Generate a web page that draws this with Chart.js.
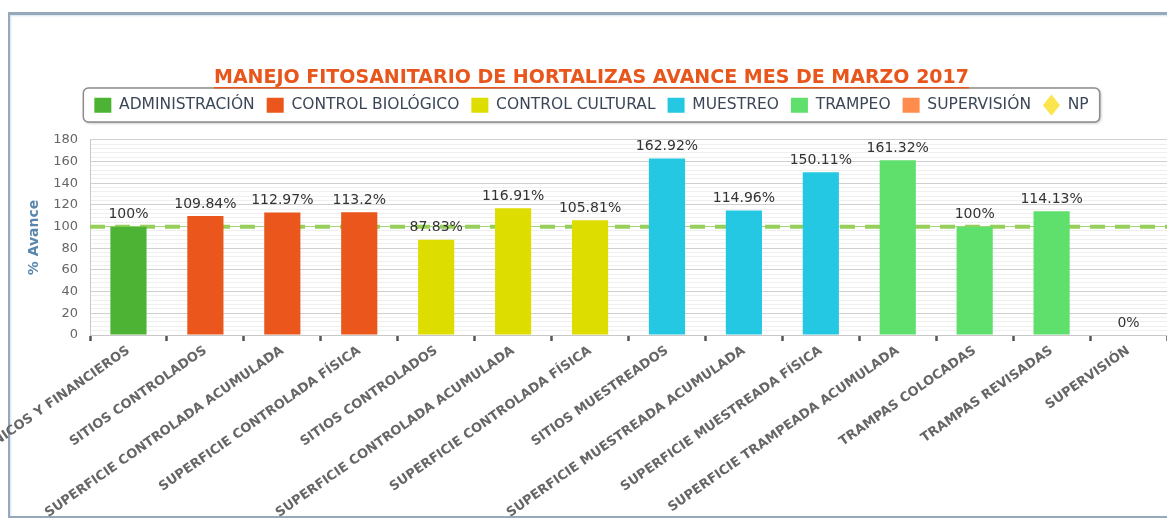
<!DOCTYPE html>
<html><head><meta charset="utf-8">
<script src="https://cdn.jsdelivr.net/npm/chart.js@4.4.0/dist/chart.umd.min.js"></script>
<style>
html,body{margin:0;padding:0;background:#fff;width:1167px;height:523px;overflow:hidden}
#frame{position:absolute;left:8px;top:12px;width:1200px;height:501px;border-top:3px solid #95a9ba;border-left:2px solid #95a9ba;border-bottom:2px solid #95a9ba;box-shadow:inset 1px 1px 2px #d4e4f0}
#wrap{position:absolute;left:0;top:0;width:1167px;height:523px}
</style></head><body>
<div id="frame"></div>
<div id="wrap"><canvas id="c" width="1167" height="523"></canvas></div>
<script>
const titleText = 'MANEJO FITOSANITARIO DE HORTALIZAS AVANCE MES DE MARZO 2017';
const categories = [
  'RECURSOS HUMANOS, MATERIALES, TÉCNICOS Y FINANCIEROS',
  'SITIOS CONTROLADOS',
  'SUPERFICIE CONTROLADA ACUMULADA',
  'SUPERFICIE CONTROLADA FÍSICA',
  'SITIOS CONTROLADOS',
  'SUPERFICIE CONTROLADA ACUMULADA',
  'SUPERFICIE CONTROLADA FÍSICA',
  'SITIOS MUESTREADOS',
  'SUPERFICIE MUESTREADA ACUMULADA',
  'SUPERFICIE MUESTREADA FÍSICA',
  'SUPERFICIE TRAMPEADA ACUMULADA',
  'TRAMPAS COLOCADAS',
  'TRAMPAS REVISADAS',
  'SUPERVISIÓN'
];
const administracion    = [100, null, null, null, null, null, null, null, null, null, null, null, null, null];
const controlBiologico  = [null, 109.84, 112.97, 113.2, null, null, null, null, null, null, null, null, null, null];
const controlCultural   = [null, null, null, null, 87.83, 116.91, 105.81, null, null, null, null, null, null, null];
const muestreo          = [null, null, null, null, null, null, null, 162.92, 114.96, 150.11, null, null, null, null];
const trampeo           = [null, null, null, null, null, null, null, null, null, null, 161.32, 100, 114.13, null];
const supervision       = [null, null, null, null, null, null, null, null, null, null, null, null, null, 0];
const npLevel = 100;
const yTickLabels = [0, 20, 40, 60, 80, 100, 120, 140, 160, 180];

const FONT = '"DejaVu Sans", Verdana, sans-serif';
const TITLE_SIZE = 19;

const barCommon = { grouped: false, categoryPercentage: 1, barPercentage: 0.47, borderWidth: 0, order: 1 };

const legendExtra = {
  id: 'legendExtra',
  beforeInit(chart) {
    const lg = chart.legend;
    const fit = lg.fit;
    lg.fit = function () { fit.call(this); this.height += 17; };
  }
};

const legendBox = {
  id: 'legendBox',
  beforeDraw(chart) {
    const lg = chart.legend;
    if (!lg || !lg.legendHitBoxes || !lg.legendHitBoxes.length) return;
    let minX = Infinity, maxX = -Infinity;
    lg.legendHitBoxes.forEach(h => { minX = Math.min(minX, h.left); maxX = Math.max(maxX, h.left + h.width); });
    const ctx = chart.ctx;
    const x = minX - 11, y = 88, w = maxX - minX + 22, hgt = 34, r = 5;
    ctx.save();
    ctx.shadowColor = 'rgba(0,0,0,0.35)'; ctx.shadowBlur = 3; ctx.shadowOffsetX = 1; ctx.shadowOffsetY = 1;
    ctx.beginPath();
    ctx.roundRect(x, y, w, hgt, r);
    ctx.fillStyle = '#fff'; ctx.fill();
    ctx.shadowColor = 'transparent';
    ctx.lineWidth = 1.5; ctx.strokeStyle = '#8c8c8c'; ctx.stroke();
    ctx.restore();
  }
};

const titleUnderline = {
  id: 'titleUnderline',
  afterDraw(chart) {
    const tb = chart.titleBlock;
    const ctx = chart.ctx;
    ctx.save();
    ctx.font = 'bold ' + TITLE_SIZE + 'px ' + FONT;
    const w = ctx.measureText(titleText).width;
    const cx = (tb.left + tb.right) / 2;
    const yy = tb.top + tb.height / 2 + 9.5;
    ctx.strokeStyle = '#e8561c'; ctx.lineWidth = 1.5;
    ctx.beginPath(); ctx.moveTo(cx - w / 2, yy); ctx.lineTo(cx + w / 2, yy); ctx.stroke();
    ctx.restore();
  }
};

const valueLabels = {
  id: 'valueLabels',
  afterDatasetsDraw(chart) {
    const ctx = chart.ctx;
    ctx.save();
    ctx.font = '14px ' + FONT;
    ctx.fillStyle = '#333';
    ctx.textAlign = 'center';
    ctx.textBaseline = 'bottom';
    chart.data.datasets.forEach((ds, i) => {
      if (ds.type === 'line') return;
      const meta = chart.getDatasetMeta(i);
      meta.data.forEach((el, j) => {
        const v = ds.data[j];
        if (v === null || v === undefined) return;
        ctx.fillText(v + '%', el.x, el.y - 5);
      });
    });
    ctx.restore();
  }
};

new Chart(document.getElementById('c'), {
  type: 'bar',
  data: {
    labels: categories,
    datasets: [
      { label: 'ADMINISTRACIÓN', data: administracion, backgroundColor: '#4db334', ...barCommon },
      { label: 'CONTROL BIOLÓGICO', data: controlBiologico, backgroundColor: '#ea561b', ...barCommon },
      { label: 'CONTROL CULTURAL', data: controlCultural, backgroundColor: '#dedd00', ...barCommon },
      { label: 'MUESTREO', data: muestreo, backgroundColor: '#25c8e2', ...barCommon },
      { label: 'TRAMPEO', data: trampeo, backgroundColor: '#5fdf6c', ...barCommon },
      { label: 'SUPERVISIÓN', data: supervision, backgroundColor: '#ff8c4c', ...barCommon },
      { type: 'line', label: 'NP', xAxisID: 'xNP',
        data: [{ x: 0, y: npLevel }, { x: 1, y: npLevel }],
        borderColor: '#96d05a', borderWidth: 4, borderDash: [15, 10],
        pointRadius: 0, backgroundColor: '#fbe54e', fill: false, order: 10 }
    ]
  },
  options: {
    responsive: false,
    animation: false,
    devicePixelRatio: 1,
    layout: { padding: { top: 71, left: 16, right: 0, bottom: 0 } },
    plugins: {
      tooltip: { enabled: false },
      title: {
        display: true, text: titleText, color: '#e8561c',
        font: { family: FONT, size: TITLE_SIZE, weight: 'bold', lineHeight: 0.76 },
        padding: { top: 0, bottom: 0 }
      },
      legend: {
        display: true, position: 'top',
        labels: {
          color: '#3b4657',
          font: { family: FONT, size: 15.5 },
          usePointStyle: true, pointStyleWidth: 17, boxHeight: 15, padding: 12,
          generateLabels(chart) {
            const items = Chart.defaults.plugins.legend.labels.generateLabels(chart);
            items.forEach(it => {
              const ds = chart.data.datasets[it.datasetIndex];
              it.lineWidth = 0; it.lineDash = [];
              if (ds.type === 'line') {
                it.pointStyle = 'rectRot'; it.fillStyle = '#fbe54e'; it.strokeStyle = '#fbe54e';
              } else {
                it.pointStyle = 'rect'; it.fillStyle = ds.backgroundColor; it.strokeStyle = ds.backgroundColor;
              }
            });
            return items;
          }
        }
      }
    },
    scales: {
      x: {
        type: 'category',
        afterFit(s) { s.height = 188; s.paddingLeft = 0; s.paddingRight = 0; },
        grid: { display: true, offset: true, drawOnChartArea: false, tickLength: 6, tickWidth: 2.5, tickColor: '#555' },
        border: { display: true, color: '#c8c8c8', width: 1 },
        ticks: {
          autoSkip: false, minRotation: 35, maxRotation: 35, padding: 2,
          color: '#666', font: { family: FONT, size: 13, weight: 'bold' }
        }
      },
      xNP: { type: 'linear', display: false, min: 0, max: 1, offset: false },
      y: {
        min: 0, max: 180,
        afterFit(s) { s.width = 74; },
        title: { display: true, text: '% Avance', color: '#5a86ad',
          font: { family: FONT, size: 14, weight: 'bold' }, padding: { top: 10, bottom: 0 } },
        grid: {
          drawTicks: false,
          color(ctx) {
            const v = ctx.tick.value;
            if (v === npLevel) return '#a6d67a';
            return yTickLabels.includes(v) ? '#d0d0d0' : '#efefef';
          },
          lineWidth: 1
        },
        border: { display: true, color: '#c8c8c8' },
        ticks: {
          stepSize: 4, autoSkip: false, padding: 12,
          color: '#666', font: { family: FONT, size: 13 },
          callback(v) { return yTickLabels.includes(v) ? String(v) : ''; }
        }
      }
    }
  },
  plugins: [legendExtra, legendBox, valueLabels, titleUnderline]
});
</script>
</body></html>
